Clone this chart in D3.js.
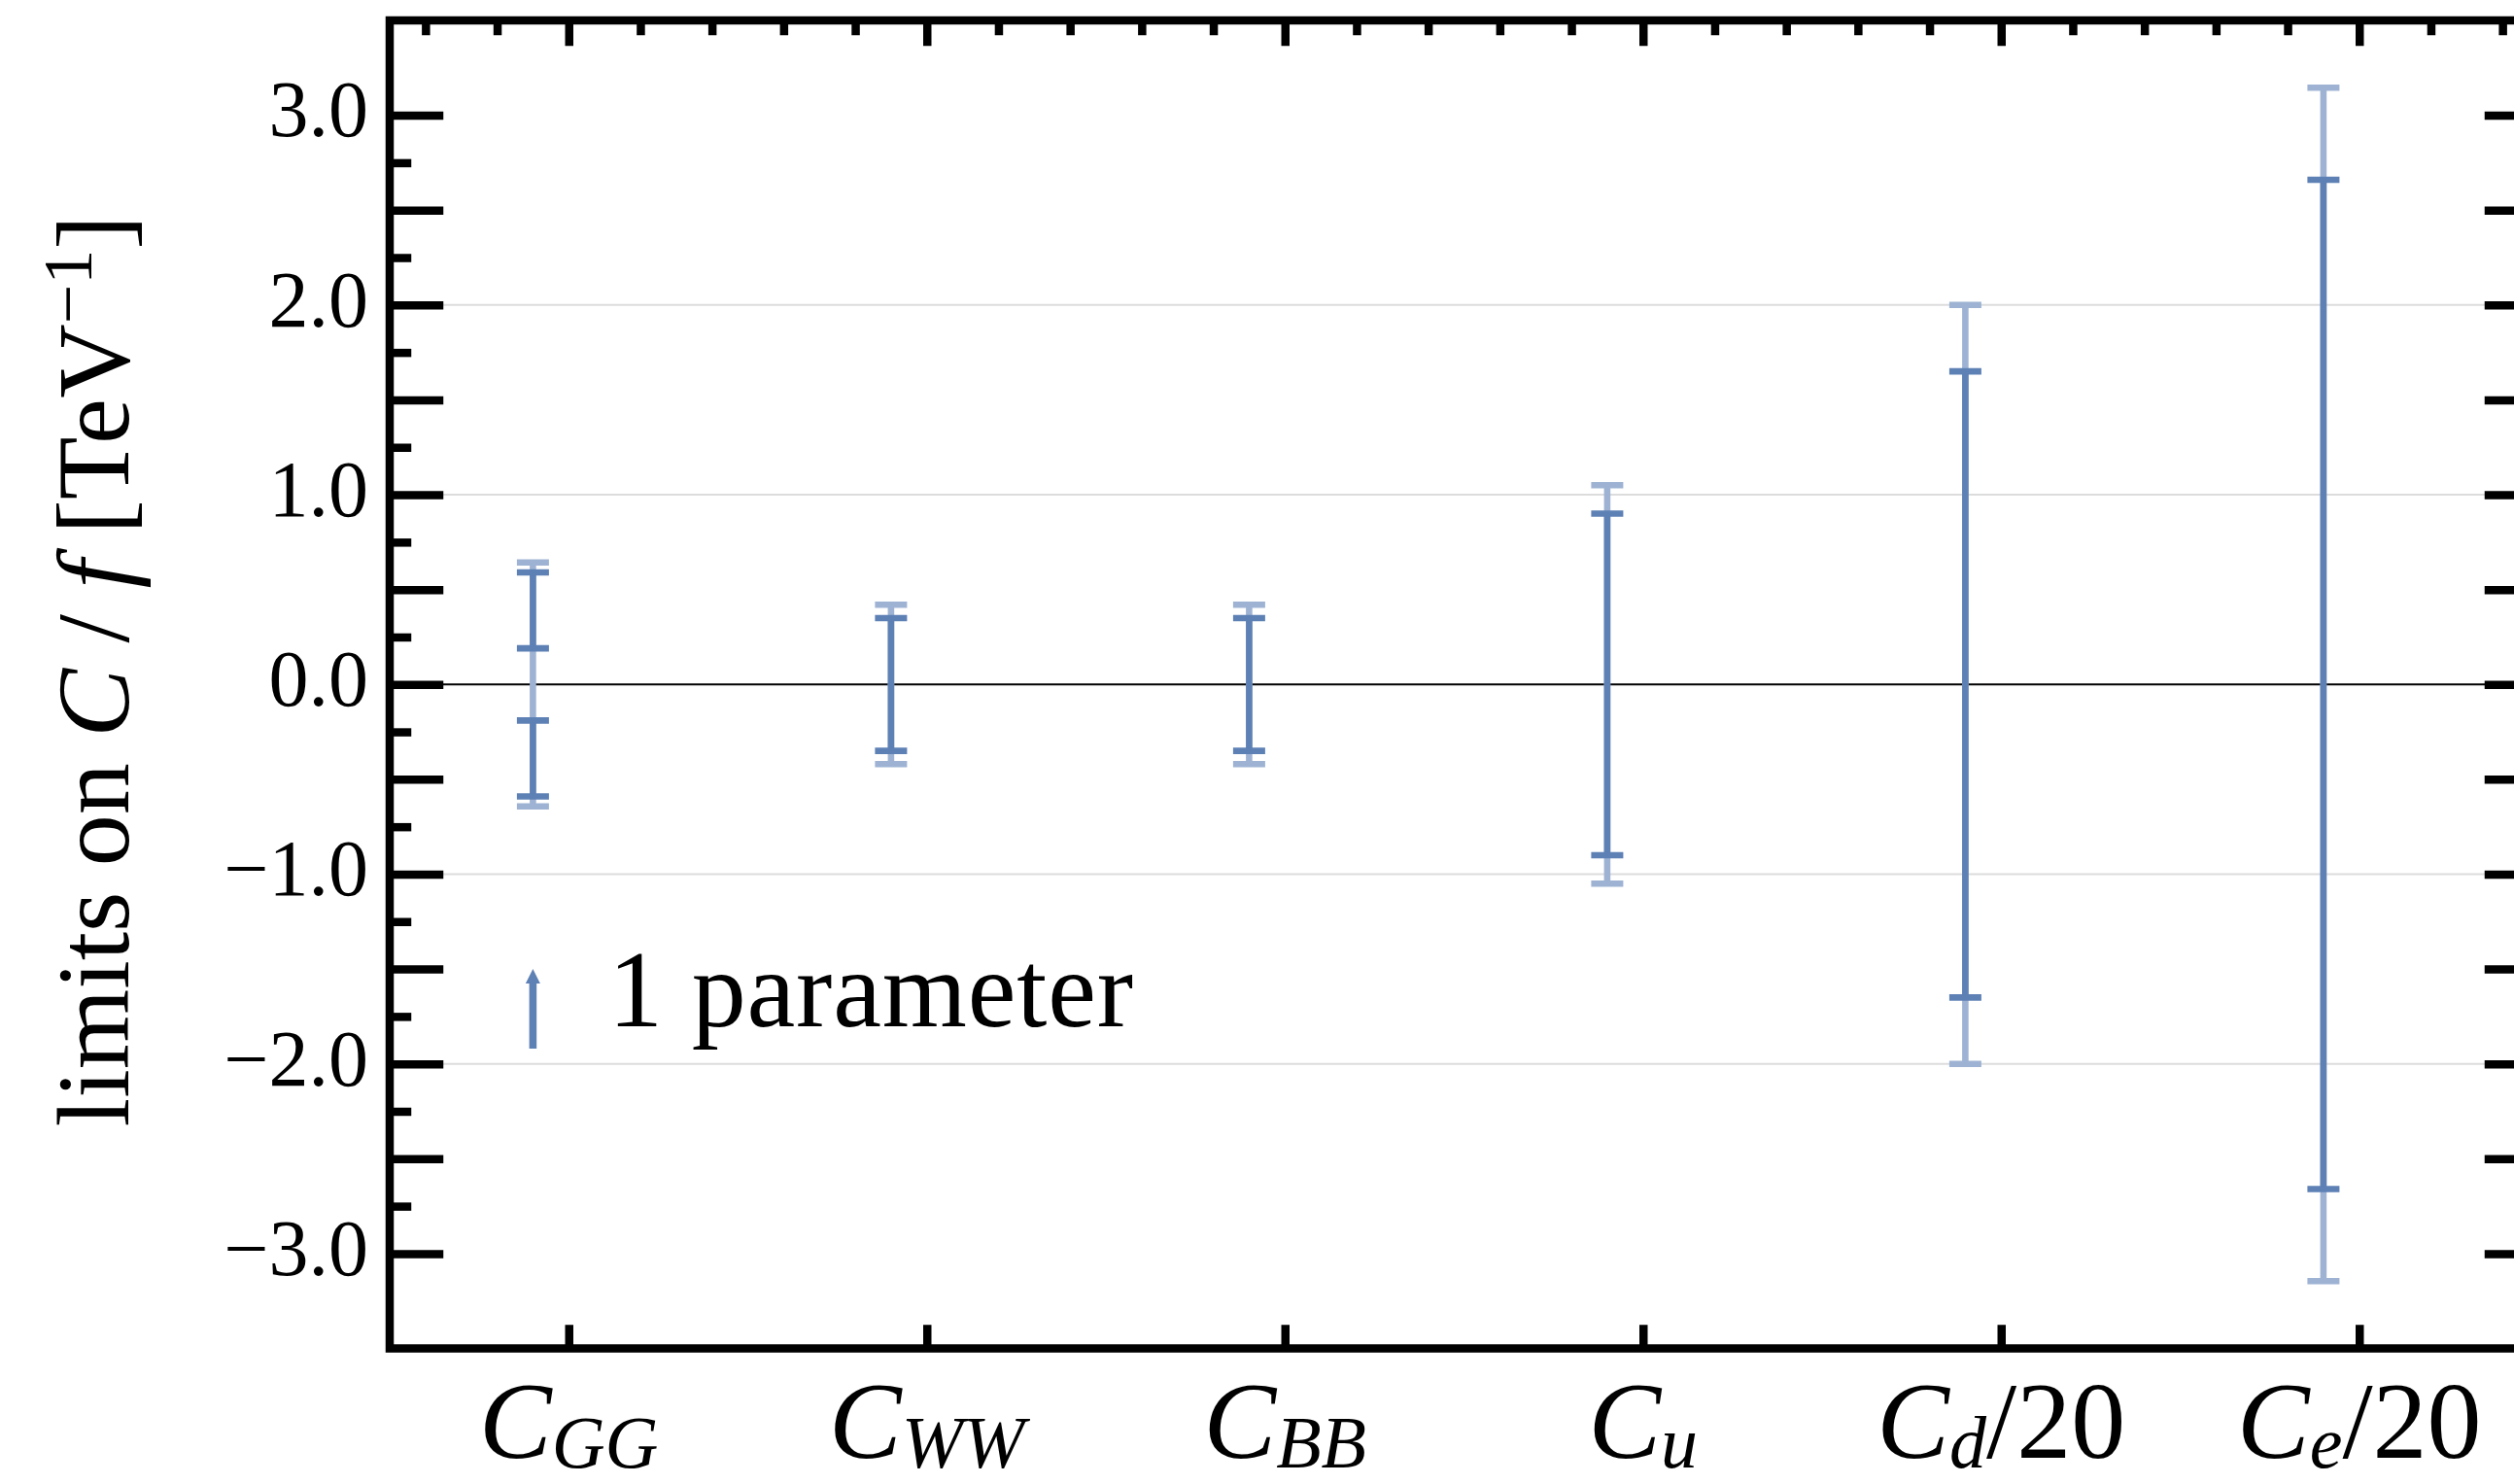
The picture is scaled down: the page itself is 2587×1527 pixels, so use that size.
<!DOCTYPE html>
<html>
<head>
<meta charset="utf-8">
<script src="https://cdn.jsdelivr.net/npm/d3@7"></script>
<style>
  html, body { margin: 0; padding: 0; background: #fff; overflow: hidden; }
  svg { display: block; }
</style>
</head>
<body>
<svg id="chart" width="2587" height="1527"></svg>
<script>
// Wilson coefficients: symbol C with a subscript and an optional rescaling suffix
const coeffSubscripts = ["GG", "WW", "BB", "u", "d", "e"];
const coeffSuffixes   = ["", "", "", "", "/20", "/20"];

// One-parameter limits on C/f in TeV^-1 (symmetric about zero)
const outerLimits = [0.643, 0.42, 0.42, 1.05, 2.0, 3.145];   // pale band edge
const innerLimits = [0.59, 0.35, 0.35, 0.90, 1.65, 2.66];    // dark band edge
const innerGaps   = [0.19, 0, 0, 0, 0, 0];                   // excluded core of the dark band

// Axis ticks
const yLabelTicks = [-3, -2, -1, 0, 1, 2, 3];
const yGridValues = [-2, -1, 1, 2];
const legendLabel = "1 parameter";

const W = 2587, H = 1527;
const frame = { left: 401, right: 2612, top: 21, bottom: 1387.5 };
const frameWidth = 8.5;
const dark = "#5e81b5";
const pale = "#9eb3d3";
const serif = "'Liberation Serif', 'Times New Roman', serif";

const svg = d3.select("#chart");

const x = d3.scaleLinear().domain([0.5, 6.5]).range([frame.left, frame.right]);
const y = d3.scaleLinear().domain([-3.5, 3.5]).range([frame.bottom, frame.top]);
const barShift = -0.1;   // bars sit just left of their category tick

// ---- grid and zero line ----
svg.append("g")
  .selectAll("line")
  .data(yGridValues)
  .join("line")
  .attr("x1", frame.left).attr("x2", frame.right)
  .attr("y1", d => y(d)).attr("y2", d => y(d))
  .attr("stroke", "#dcdcdc").attr("stroke-width", 2);

svg.append("line")
  .attr("x1", frame.left).attr("x2", frame.right)
  .attr("y1", y(0)).attr("y2", y(0))
  .attr("stroke", "#000").attr("stroke-width", 2);

// ---- error bars ----
const capHalf = 16.5;
const barStroke = 6.6;

function drawInterval(g, cx, lo, hi, color) {
  g.append("line")
    .attr("x1", cx).attr("x2", cx)
    .attr("y1", y(lo)).attr("y2", y(hi))
    .attr("stroke", color).attr("stroke-width", barStroke);
  [lo, hi].forEach(v => {
    g.append("line")
      .attr("x1", cx - capHalf).attr("x2", cx + capHalf)
      .attr("y1", y(v)).attr("y2", y(v))
      .attr("stroke", color).attr("stroke-width", barStroke);
  });
}

const bars = svg.append("g");
coeffSubscripts.forEach((_, i) => {
  const cx = x(i + 1 + barShift);
  drawInterval(bars, cx, -outerLimits[i], outerLimits[i], pale);
});
coeffSubscripts.forEach((_, i) => {
  const cx = x(i + 1 + barShift);
  if (innerGaps[i] > 0) {
    drawInterval(bars, cx, innerGaps[i], innerLimits[i], dark);
    drawInterval(bars, cx, -innerLimits[i], -innerGaps[i], dark);
  } else {
    drawInterval(bars, cx, -innerLimits[i], innerLimits[i], dark);
  }
});

// ---- frame ----
svg.append("rect")
  .attr("x", frame.left).attr("y", frame.top)
  .attr("width", frame.right - frame.left)
  .attr("height", frame.bottom - frame.top)
  .attr("fill", "none")
  .attr("stroke", "#000").attr("stroke-width", frameWidth);

// ---- tick marks (inward) ----
const half = frameWidth / 2;
function tickAxis(axis, tx, ty) {
  const g = svg.append("g").attr("transform", `translate(${tx},${ty})`).call(axis);
  g.select(".domain").remove();
  g.selectAll(".tick line").attr("stroke", "#000").attr("stroke-width", frameWidth);
  g.selectAll(".tick text").remove();
  return g;
}
const yMajor = d3.range(-3, 3.001, 0.5);
const yMinor = d3.range(-2.75, 2.76, 0.5);
const xMajor = d3.range(1, 7);
const xMinor = d3.range(0.6, 6.45, 0.2).filter(v => Math.abs(v - Math.round(v)) > 0.05);

tickAxis(d3.axisLeft(y).tickValues(yMajor).tickSize(-(half + 51)).tickFormat(""), frame.left, 0);
tickAxis(d3.axisLeft(y).tickValues(yMinor).tickSize(-(half + 18)).tickFormat(""), frame.left, 0);
tickAxis(d3.axisRight(y).tickValues(yMajor).tickSize(-(half + 51)).tickFormat(""), frame.right, 0);
tickAxis(d3.axisRight(y).tickValues(yMinor).tickSize(-(half + 18)).tickFormat(""), frame.right, 0);
tickAxis(d3.axisTop(x).tickValues(xMajor).tickSize(-(half + 22)).tickFormat(""), 0, frame.top);
tickAxis(d3.axisTop(x).tickValues(xMinor).tickSize(-(half + 11)).tickFormat(""), 0, frame.top);
tickAxis(d3.axisBottom(x).tickValues(xMajor).tickSize(-(half + 20)).tickFormat(""), 0, frame.bottom);

// ---- y tick labels ----
const yLab = svg.append("g")
  .attr("transform", `translate(${frame.left},0)`)
  .call(d3.axisLeft(y).tickValues(yLabelTicks).tickSize(0).tickPadding(22).tickFormat(d3.format(".1f")));
yLab.select(".domain").remove();
yLab.selectAll(".tick text")
  .attr("dy", "0.26em")
  .attr("fill", "#000")
  .style("font-family", serif)
  .style("font-size", "82px");

// ---- x category labels: C_sub[/20] ----
const xLab = svg.append("g")
  .selectAll("text")
  .data(coeffSubscripts)
  .join("text")
  .attr("x", (d, i) => x(i + 1))
  .attr("y", 1500)
  .attr("text-anchor", "middle")
  .style("font-family", serif)
  .style("font-size", "112px");
xLab.each(function (d, i) {
  const t = d3.select(this);
  t.append("tspan").style("font-style", "italic").text("C");
  t.append("tspan").style("font-style", "italic").style("font-size", "76px").attr("dy", 10).text(d);
  if (coeffSuffixes[i]) {
    t.append("tspan").attr("dy", -10).text(coeffSuffixes[i]);
  }
});

// ---- y axis title ----
const title = svg.append("text")
  .attr("transform", `translate(132,${(frame.top + frame.bottom) / 2 - 14}) rotate(-90)`)
  .attr("text-anchor", "middle")
  .style("font-family", serif)
  .style("font-size", "106px");
title.append("tspan").text("limits on ");
title.append("tspan").style("font-style", "italic").text("C");
title.append("tspan").text(" / ");
title.append("tspan").style("font-style", "italic").text("f");
title.append("tspan").text(" [TeV");
title.append("tspan").style("font-size", "72px").attr("dy", -38).text("\u22121");
title.append("tspan").attr("dy", 38).text("]");

// ---- legend ----
const legX = x(1 + barShift);
const legTop = 997, legBottom = 1079;
const legend = svg.append("g");
legend.append("line")
  .attr("x1", legX).attr("x2", legX)
  .attr("y1", legBottom).attr("y2", legTop + 12)
  .attr("stroke", dark).attr("stroke-width", barStroke + 1);
legend.append("path")
  .attr("d", d3.line()([[legX - 7.5, legTop + 15], [legX, legTop], [legX + 7.5, legTop + 15]]) + "Z")
  .attr("fill", dark);
legend.append("text")
  .attr("x", 626).attr("y", 1056)
  .attr("textLength", 540)
  .attr("lengthAdjust", "spacing")
  .style("font-family", serif)
  .style("font-size", "112px")
  .text(legendLabel);
</script>
</body>
</html>
